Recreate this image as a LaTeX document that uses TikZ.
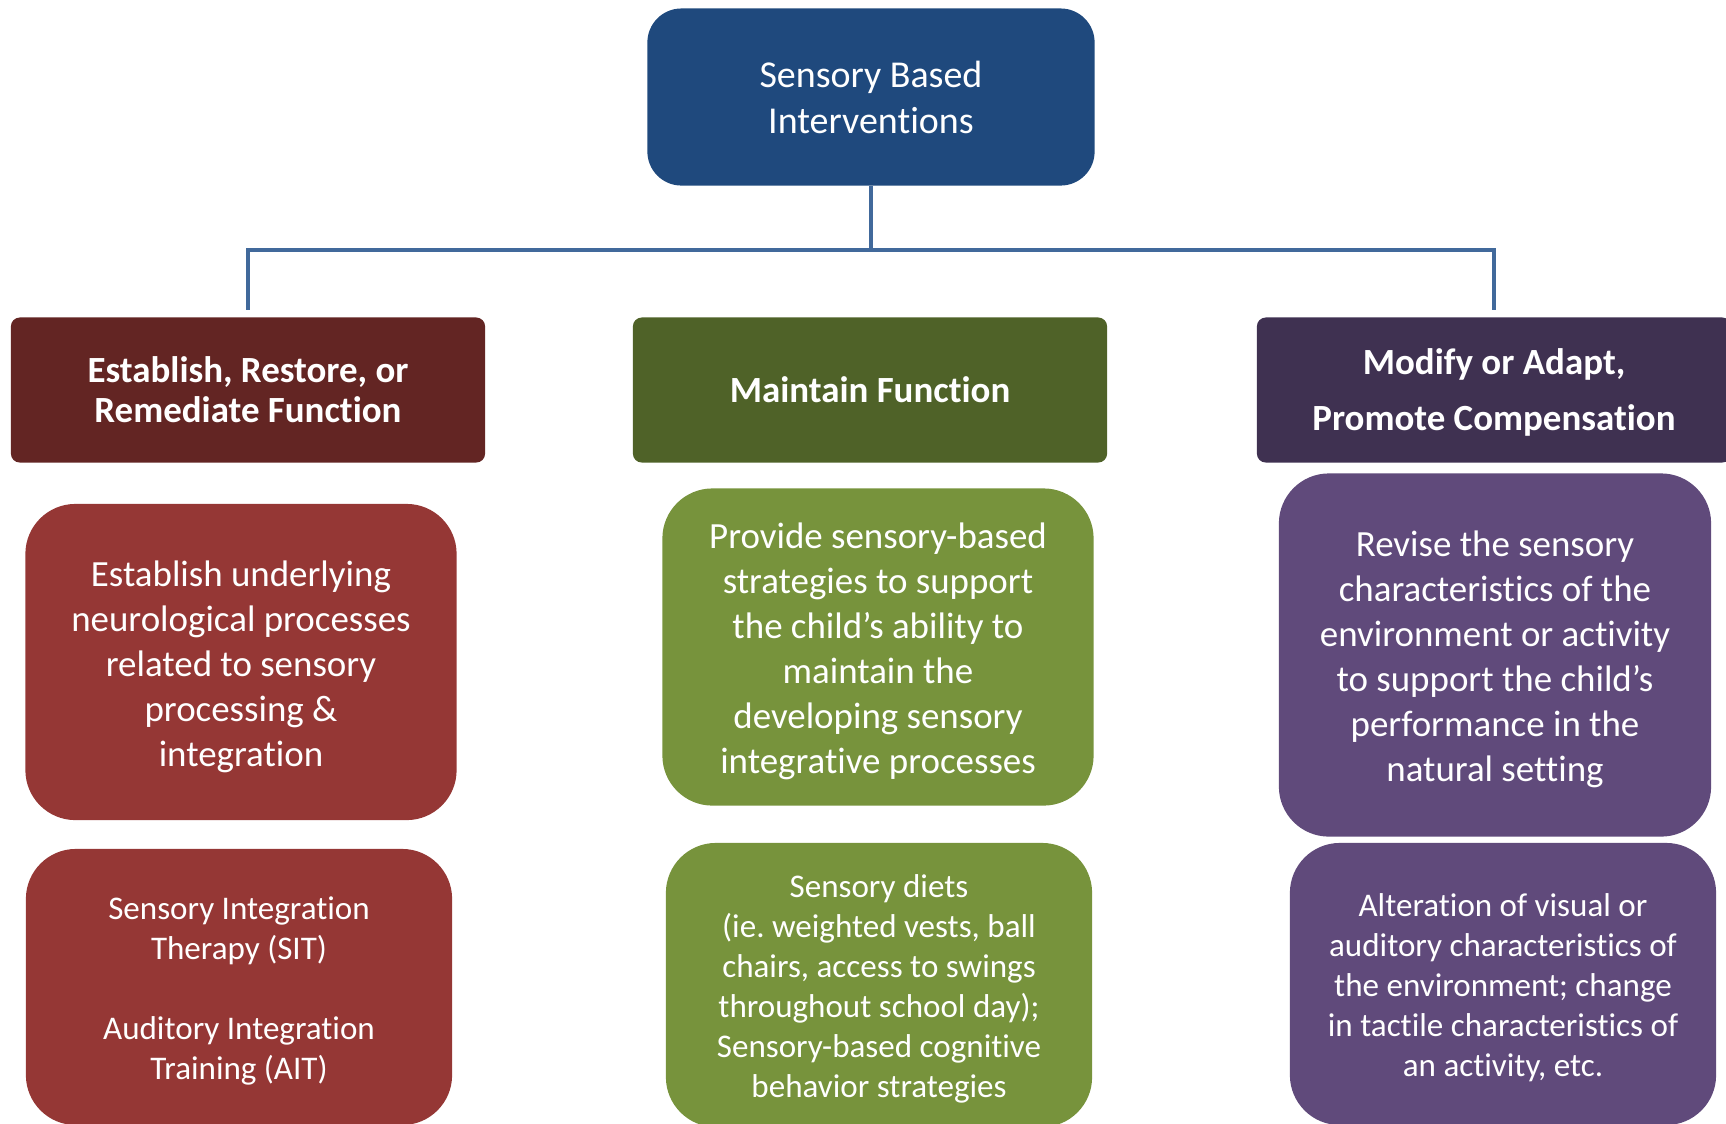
\documentclass[tikz,border=0pt]{standalone}
\usepackage{fontspec}
\setmainfont{Carlito}[Ligatures=NoCommon]

\definecolor{SBIblue}{HTML}{1F497D}
\definecolor{linkblue}{HTML}{41699B}
\definecolor{ERRhead}{HTML}{632523}
\definecolor{ERRbox}{HTML}{953735}
\definecolor{MFhead}{HTML}{4F6228}
\definecolor{MFbox}{HTML}{77933C}
\definecolor{MAPhead}{HTML}{3F3151}
\definecolor{MAPbox}{HTML}{604A7B}

\newcommand{\topgap}[1]{\rule{0pt}{#1em}}

\begin{document}
\begin{tikzpicture}[x=0.01cm,y=-0.01cm,
    box/.style={rectangle,align=center,text=white,inner sep=0pt},
    head/.style={box,rounded corners=0.09cm,minimum width=4.74cm,minimum height=1.45cm},
    info/.style={box,rounded corners=0.5cm,minimum width=4.31cm},
    link/.style={draw=linkblue,line width=1.4pt}]

\useasboundingbox (0,0) rectangle (1726,1123);

\node[box,fill=SBIblue,rounded corners=0.34cm,minimum width=4.47cm,minimum height=1.77cm,
    font=\fontsize{10.8}{13.1}\selectfont] (SBI) at (871,97) {Sensory Based\\Interventions};

\node[head,fill=ERRhead,font=\fontsize{10.5}{11.4}\selectfont\bfseries] (H_ERR) at (248,390)
    {Establish, Restore, or\\Remediate Function};
\node[head,fill=MFhead,font=\fontsize{10.5}{11.4}\selectfont\bfseries] (H_MF) at (870,390)
    {Maintain Function};
\node[head,fill=MAPhead,font=\fontsize{10.5}{15.9}\selectfont\bfseries] (H_MAP) at (1494,390)
    {\topgap{0.85}Modify or Adapt,\\Promote Compensation};

\node[info,fill=ERRbox,minimum height=3.16cm,font=\fontsize{10.5}{12.8}\selectfont] (B_ERR1) at (241,662)
    {\topgap{0.95}Establish underlying\\neurological processes\\related to sensory\\processing \&\\integration};
\node[info,fill=ERRbox,minimum width=4.26cm,minimum height=2.76cm,font=\fontsize{9.4}{11.4}\selectfont] (B_ERR2) at (239,987)
    {\topgap{0.92}Sensory Integration\\Therapy (SIT)\\[11.4pt]Auditory Integration\\Training (AIT)};

\node[info,fill=MFbox,minimum height=3.17cm,font=\fontsize{10.5}{12.8}\selectfont] (B_MF1) at (878,647)
    {\topgap{0.95}Provide sensory-based\\strategies to support\\the child’s ability to\\maintain the\\developing sensory\\integrative processes};
\node[info,fill=MFbox,minimum width=4.26cm,minimum height=2.84cm,font=\fontsize{9.4}{11.4}\selectfont] (B_MF2) at (879,985)
    {\topgap{0.92}Sensory diets\\(ie.\ weighted vests, ball\\chairs, access to swings\\throughout school day);\\Sensory-based cognitive\\behavior strategies};

\node[info,fill=MAPbox,minimum width=4.32cm,minimum height=3.63cm,font=\fontsize{10.5}{12.8}\selectfont] (B_MAP1) at (1495,655)
    {\topgap{0.95}Revise the sensory\\characteristics of the\\environment or activity\\to support the child’s\\performance in the\\natural setting};
\node[info,fill=MAPbox,minimum width=4.26cm,minimum height=2.82cm,font=\fontsize{9.4}{11.4}\selectfont] (B_MAP2) at (1503,984)
    {\topgap{0.92}Alteration of visual or\\auditory characteristics of\\the environment; change\\in tactile characteristics of\\an activity, etc.};

\coordinate (bus) at (871,250);
\draw[link] (SBI.south) -- (bus);
\draw[link,shorten >=2pt] (bus) -| (H_ERR.north);
\draw[link,shorten >=2pt] (bus) -| (H_MAP.north);

\end{tikzpicture}
\end{document}
